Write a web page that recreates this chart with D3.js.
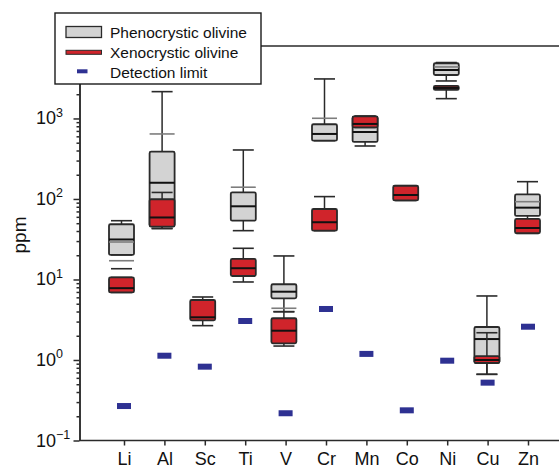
<!DOCTYPE html>
<html>
<head>
<meta charset="utf-8">
<script src="https://cdn.jsdelivr.net/npm/d3@7"></script>
<style>
  body { margin: 0; background: #fff; }
  text { font-family: "Liberation Sans", Arial, Helvetica, sans-serif; fill: #111; }
</style>
</head>
<body>
<svg id="chart" width="559" height="469"></svg>
<script>
/* elements on the x axis */
const categories = ['Li', 'Al', 'Sc', 'Ti', 'V', 'Cr', 'Mn', 'Co', 'Ni', 'Cu', 'Zn'];

/* phenocrystic olivine (grey boxes), ppm */
const phenoLow    = [20.2,   43, null, 40.4, 3.98,  530,  455, null, 2922, 0.664, 56.5];
const phenoQ1     = [20.2,   46, null, 53.7, 5.84,  530,  511, null, 3467, 0.918, 61.5];
const phenoMedian = [31.4,  159, null, 81.1, 7.05,  642,  679, null, 4000, 1.82,  78];
const phenoQ3     = [48.5,  387, null,  121, 8.72,  847, 1050, null, 4853, 2.57,  114];
const phenoHigh   = [53.7, 2153, null,  406, 19.6, 3097, 1070, null, 4950, 6.24,  164];
const phenoMean   = [29.2,  642, null,  140, null, 1005, null, null, 4365, null,  92.5];

/* xenocrystic olivine (red boxes), ppm */
const xenoLow    = [6.9,    43, 2.67, 9.31, 1.49, 40.4,  773, 95.8, 1762, 0.664, 37.5];
const xenoQ1     = [6.9,  45.3, 3.11, 11.05, 1.61, 40.4, 773, 95.8, 2260, 0.918, 37.5];
const xenoMedian = [7.8,  58.9, 3.39, 13.8, 2.31, 51.4,  855,  112, 2393, 1.0,   43.6];
const xenoQ3     = [10.6, 99.2, 5.56, 18.0, 3.30, 75.1, 1059,  146, 2535, 1.12,  56.5];
const xenoHigh   = [10.6, 120.5, 6.06, 24.4, 3.98, 107, 1059,  146, 2535, 2.18,  56.5];
const xenoMean   = [17.1, null, null, null, 4.39, null, null, null, null, null,  null];
const xenoOuter  = [13.6, null, null, null, null, null, null, null, null, null,  null];

/* detection limits, ppm */
const detectionLimit = [0.268, 1.13, 0.826, 3.05, 0.218, 4.30, 1.19, 0.237, 0.98, 0.523, 2.59];

/* y axis decades */
const decades = [0.1, 1, 10, 100, 1000];

const svg = d3.select('#chart');
const ink = '#2a2a2a';
const greyFill = '#d3d3d3';
const redFill = '#d0242b';
const blue = '#2e3192';
const boxW = 25;
const capW = 21;

const y = d3.scaleLog().domain([0.1, Math.pow(10, 3.9)]).range([440.5, 46]);
const xBox = d3.scalePoint().domain(categories).range([121.5, 527.5]);
const xTick = d3.scalePoint().domain(categories).range([124, 528]);

// plot frame: top line and bottom axis line
svg.append('line')
  .attr('x1', 79.5).attr('x2', 559).attr('y1', y.range()[1]).attr('y2', y.range()[1])
  .attr('stroke', ink).attr('stroke-width', 1.5)
svg.append('line')
  .attr('x1', 79.5).attr('x2', 559).attr('y1', y.range()[0]).attr('y2', y.range()[0])
  .attr('stroke', ink).attr('stroke-width', 1.5)

// left axis, major + minor ticks
const yAxisG = svg.append('g').attr('transform', 'translate(79.5,0)')
yAxisG.call(d3.axisLeft(y).tickValues(decades).tickSize(6).tickSizeOuter(0).tickFormat(''))
yAxisG.append('g').call(d3.axisLeft(y)
  .tickValues(y.ticks().filter(v => !decades.includes(v) && v > 0.1))
  .tickSize(3).tickSizeOuter(0).tickFormat(''))
yAxisG.selectAll('path, line').attr('stroke', ink).attr('stroke-width', 1.5)

const yLabels = svg.append('g').selectAll('text')
  .data(decades)
  .enter()
  .append('text')
  .attr('x', 36)
  .attr('y', d => y(d) + 6)
  .style('font-size', '18px')
yLabels.append('tspan').text('10')
yLabels.append('tspan')
  .attr('dy', -7.5)
  .style('font-size', '12.5px')
  .text(d => { const e = Math.round(Math.log10(d)); return e < 0 ? '\u2212' + (-e) : String(e) })

svg.append('text')
  .attr('transform', 'translate(25.5,235) rotate(-90)')
  .attr('text-anchor', 'middle')
  .style('font-size', '19px')
  .text('ppm')

// bottom axis ticks and labels
const xAxisG = svg.append('g').attr('transform', `translate(0,${y.range()[0]})`)
xAxisG.call(d3.axisBottom(xTick).tickSize(5).tickPadding(7))
xAxisG.select('.domain').remove()
xAxisG.selectAll('line').attr('stroke', ink).attr('stroke-width', 1.5)
xAxisG.selectAll('text').style('font-size', '18px').style('font-family', '"Liberation Sans", Arial, sans-serif').attr('fill', '#111')

/* draw one series of box plots */
function drawBoxes(lo, q1, med, q3, hi, mean, outer, fill) {
  const rows = categories.map((c, i) => ({ c, lo: lo[i], q1: q1[i], med: med[i], q3: q3[i], hi: hi[i], mean: mean[i], outer: outer ? outer[i] : null }))
    .filter(d => d.med != null)
  const g = svg.append('g')
  const item = g.selectAll('g').data(rows).enter().append('g')
    .attr('transform', d => `translate(${xBox(d.c)},0)`)

  // whiskers
  item.append('line')
    .attr('y1', d => y(d.q3)).attr('y2', d => y(d.hi))
    .attr('stroke', ink).attr('stroke-width', 1.5)
  item.append('line')
    .attr('y1', d => y(d.q1)).attr('y2', d => y(d.lo))
    .attr('stroke', ink).attr('stroke-width', 1.5)
  item.selectAll('line.cap').data(d => [d.lo, d.hi, d.outer].filter(v => v != null)).enter().append('line')
    .attr('class', 'cap')
    .attr('x1', -capW / 2).attr('x2', capW / 2)
    .attr('y1', v => y(v)).attr('y2', v => y(v))
    .attr('stroke', ink).attr('stroke-width', 1.6)

  // box
  item.append('rect')
    .attr('x', -boxW / 2).attr('width', boxW)
    .attr('y', d => y(d.q3)).attr('height', d => y(d.q1) - y(d.q3))
    .attr('rx', 1.5)
    .attr('fill', fill).attr('stroke', ink).attr('stroke-width', 1.8)

  // median
  item.append('line')
    .attr('x1', -boxW / 2).attr('x2', boxW / 2)
    .attr('y1', d => y(d.med)).attr('y2', d => y(d.med))
    .attr('stroke', '#111').attr('stroke-width', 2)

  // mean
  item.filter(d => d.mean != null).append('line')
    .attr('x1', -boxW / 2).attr('x2', boxW / 2)
    .attr('y1', d => y(d.mean)).attr('y2', d => y(d.mean))
    .attr('stroke', '#7d7d7d').attr('stroke-width', 1.6)
}

drawBoxes(phenoLow, phenoQ1, phenoMedian, phenoQ3, phenoHigh, phenoMean, null, greyFill)
drawBoxes(xenoLow, xenoQ1, xenoMedian, xenoQ3, xenoHigh, xenoMean, xenoOuter, redFill)

// detection limits
svg.append('g').selectAll('rect')
  .data(categories.map((c, i) => ({ c, v: detectionLimit[i] })))
  .enter()
  .append('rect')
  .attr('x', d => xTick(d.c) - 7).attr('width', 14)
  .attr('y', d => y(d.v) - 3).attr('height', 6)
  .attr('fill', blue)

// legend
const legend = svg.append('g')
legend.append('rect')
  .attr('x', 55).attr('y', 13).attr('width', 206).attr('height', 71)
  .attr('fill', '#fff').attr('stroke', '#1a1a1a').attr('stroke-width', 1.4)
legend.append('rect')
  .attr('x', 66).attr('y', 26.5).attr('width', 35.5).attr('height', 11)
  .attr('fill', greyFill).attr('stroke', ink).attr('stroke-width', 1.3)
legend.append('rect')
  .attr('x', 66).attr('y', 50.3).attr('width', 35.5).attr('height', 4)
  .attr('fill', redFill).attr('stroke', ink).attr('stroke-width', 1)
legend.append('rect')
  .attr('x', 77).attr('y', 69.3).attr('width', 10.5).attr('height', 4)
  .attr('fill', blue)
const legendText = ['Phenocrystic olivine', 'Xenocrystic olivine', 'Detection limit']
legend.selectAll('text.lbl').data(legendText).enter().append('text')
  .attr('class', 'lbl')
  .attr('x', 110)
  .attr('y', (d, i) => 37.5 + i * 20)
  .style('font-size', '15.5px')
  .text(d => d)
</script>
</body>
</html>
